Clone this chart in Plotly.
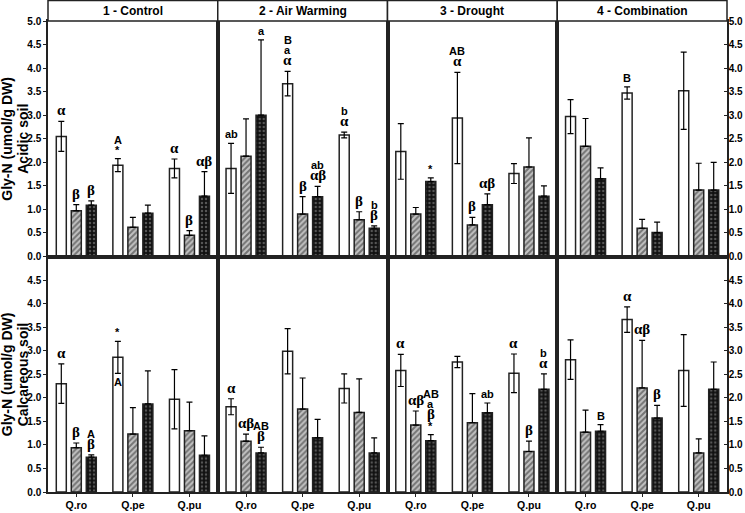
import plotly.graph_objects as go
from plotly.subplots import make_subplots

treatments = ["1 - Control", "2 - Air Warming", "3 - Drought", "4 - Combination"]
species = ["Q.ro", "Q.pe", "Q.pu"]
soils = ["Acidic soil", "Calcareous soil"]

# one inner list per treatment, values for Q.ro, Q.pe, Q.pu
acid_open = [[2.55, 1.94, 1.87], [1.87, 3.67, 2.58], [2.23, 2.94, 1.76], [2.97, 3.47, 3.52]]
acid_open_err = [[0.32, 0.14, 0.20], [0.53, 0.26, 0.06], [0.59, 0.97, 0.21], [0.36, 0.13, 0.82]]
acid_hatch = [[0.97, 0.62, 0.45], [2.13, 0.90, 0.78], [0.90, 0.67, 1.90], [2.34, 0.60, 1.41]]
acid_hatch_err = [[0.13, 0.21, 0.10], [0.79, 0.37, 0.17], [0.14, 0.16, 0.62], [0.59, 0.19, 0.57]]
acid_dot = [[1.09, 0.92, 1.28], [3.00, 1.27, 0.60], [1.59, 1.10, 1.28], [1.65, 0.51, 1.41]]
acid_dot_err = [[0.09, 0.17, 0.52], [1.60, 0.22, 0.05], [0.08, 0.23, 0.22], [0.23, 0.22, 0.59]]

calc_open = [[2.30, 2.86, 1.97], [1.81, 2.99, 2.20], [2.58, 2.76, 2.52], [2.81, 3.66, 2.58]]
calc_open_err = [[0.42, 0.34, 0.63], [0.17, 0.48, 0.31], [0.34, 0.12, 0.41], [0.42, 0.27, 0.76]]
calc_hatch = [[0.94, 1.23, 1.30], [1.08, 1.76, 1.69], [1.42, 1.47, 0.86], [1.27, 2.21, 0.83]]
calc_hatch_err = [[0.10, 0.56, 0.61], [0.15, 0.66, 0.71], [0.30, 0.62, 0.22], [0.47, 1.01, 0.30]]
calc_dot = [[0.74, 1.87, 0.78], [0.83, 1.15, 0.83], [1.09, 1.68, 2.18], [1.29, 1.57, 2.18]]
calc_dot_err = [[0.05, 0.70, 0.41], [0.12, 0.39, 0.32], [0.13, 0.21, 0.33], [0.14, 0.27, 0.58]]

# significance letters, top line first
acid_open_lbl = [["α", "A<br>*", "α"], ["ab", "B<br>a<br>α", "b<br>α"], ["", "AB<br>α", ""], ["", "B", ""]]
acid_hatch_lbl = [["β", "", "β"], ["", "β", "β"], ["", "β", ""], ["", "", ""]]
acid_dot_lbl = [["β", "", "αβ"], ["a", "ab<br>αβ", "b<br>β"], ["*", "αβ", ""], ["", "", ""]]

calc_open_lbl = [["α", "*", ""], ["α", "", ""], ["α", "", "α"], ["", "α", ""]]
calc_hatch_lbl = [["β", "", ""], ["αβ", "", ""], ["αβ", "", "β"], ["", "αβ", ""]]
calc_dot_lbl = [["A<br>β", "", ""], ["AB<br>β", "", ""], ["AB<br>a<br>β<br>*", "ab", "b<br>α"], ["B", "β", ""]]

SANS = "Liberation Sans, Arial"
SERIF = "Liberation Serif, Times New Roman"
LINE = "#222"
BAR_W = 0.177
OFFSET = 0.265
PLOT_W = 679


def axis_ref(row, col):
    k = row * 4 + col + 1
    return ("x" if k == 1 else f"x{k}"), ("y" if k == 1 else f"y{k}")


def add_labels(fig, row, col, xs, tops, labels):
    xr, yr = axis_ref(row, col)
    for x, top, lbl in zip(xs, tops, labels):
        if not lbl:
            continue
        lines = lbl.split("<br>")[::-1]
        shift = 1
        for line in lines:
            greek = any(ch in line for ch in "αβ")
            fig.add_annotation(
                x=x, y=top, xref=xr, yref=yr, text=f"<b>{line}</b>",
                showarrow=False, xanchor="center", yanchor="bottom", yshift=shift,
                font=dict(family=SERIF if greek else SANS, size=15 if greek else 11, color="black"),
            )
            shift += 12 if greek else 10


def main() -> None:
    fig = make_subplots(rows=2, cols=4, horizontal_spacing=0, vertical_spacing=0)

    data = [
        [(acid_open, acid_open_err, acid_open_lbl), (acid_hatch, acid_hatch_err, acid_hatch_lbl),
         (acid_dot, acid_dot_err, acid_dot_lbl)],
        [(calc_open, calc_open_err, calc_open_lbl), (calc_hatch, calc_hatch_err, calc_hatch_lbl),
         (calc_dot, calc_dot_err, calc_dot_lbl)],
    ]
    styles = [
        dict(color="white", line=dict(color=LINE, width=1.5)),
        dict(color="#b8b8b8", line=dict(color=LINE, width=1.5),
             pattern=dict(shape="/", fgcolor="#262626", bgcolor="#c2c2c2", size=4, solidity=0.5)),
        dict(color="#111", line=dict(color=LINE, width=1.5),
             pattern=dict(shape=".", fgcolor="#9a9a9a", bgcolor="#111", size=4, solidity=0.3)),
    ]

    for r in range(2):
        for c in range(4):
            for j, (vals, errs, lbls) in enumerate(data[r]):
                xs = [i + (j - 1) * OFFSET for i in range(len(species))]
                err = dict(type="data", array=errs[c], color="black", thickness=1.2, width=3)
                if j > 0:
                    err.update(symmetric=False, arrayminus=[0] * len(species))
                fig.add_trace(
                    go.Bar(x=xs, y=vals[c], width=BAR_W, marker=styles[j],
                           error_y=err, showlegend=False, hoverinfo="skip"),
                    row=r + 1, col=c + 1,
                )
                tops = [v + e for v, e in zip(vals[c], errs[c])]
                add_labels(fig, r, c, xs, tops, lbls[c])

            fig.update_xaxes(
                range=[-0.5, 2.5], showline=True, mirror=True, linecolor=LINE, linewidth=1.5,
                showgrid=False, zeroline=False, automargin=False,
                tickvals=[0, 1, 2], ticktext=[f"<b>{s}</b>" for s in species],
                showticklabels=(r == 1), ticks="outside" if r == 1 else "", ticklen=3,
                tickcolor=LINE, tickfont=dict(family=SANS, size=10.5, color="black"),
                row=r + 1, col=c + 1,
            )
            tv = [i * 0.5 for i in range(11 if r == 0 else 10)]
            yaxis = dict(
                range=[0, 5], showline=True, mirror=True, linecolor=LINE, linewidth=1.5,
                showgrid=False, zeroline=False, automargin=False,
                tickvals=tv, ticktext=[f"<b>{v:.1f}</b>" for v in tv],
                showticklabels=False, ticks="", ticklen=3, tickcolor=LINE,
                tickfont=dict(family=SANS, size=10, color="black"),
            )
            if c == 0:
                yaxis.update(showticklabels=True, ticks="outside")
            elif c == 3:
                yaxis.update(showticklabels=True, ticks="inside", side="right",
                             ticklabelstandoff=-2)
            fig.update_yaxes(**yaxis, row=r + 1, col=c + 1)

    # treatment header boxes
    head = 20.5 / 471
    for c, name in enumerate(treatments):
        x0, x1 = c / 4, (c + 1) / 4
        fig.add_shape(type="rect", xref="paper", yref="paper", x0=x0, x1=x1, y0=1, y1=1 + head,
                      line=dict(color=LINE, width=1.5), fillcolor="white")
        fig.add_annotation(x=(x0 + x1) / 2, y=1 + head / 2, xref="paper", yref="paper",
                           text=f"<b>{name}</b>", showarrow=False,
                           xanchor="center", yanchor="middle",
                           font=dict(family=SANS, size=12, color="black"))

    # letter drawn inside the Q.pe open bar, calcareous control
    fig.add_annotation(x=1 - OFFSET, y=calc_open[0][1] - calc_open_err[0][1], xref="x5", yref="y5",
                       text="<b>A</b>", showarrow=False, xanchor="center", yanchor="top", yshift=-1,
                       font=dict(family=SANS, size=11, color="black"))

    # two-line y titles, one per row
    for r, soil in enumerate(soils):
        for px, txt in ((-41, "Gly-N (umol/g DW)"), (-25, soil)):
            fig.add_annotation(x=px / PLOT_W, y=0.75 - 0.5 * r, xref="paper", yref="paper",
                               text=f"<b>{txt}</b>", textangle=-90,
                               showarrow=False, xanchor="center", yanchor="middle",
                               font=dict(family=SANS, size=14, color="black"))

    fig.update_layout(
        width=745, height=513, margin=dict(l=48, r=18, t=21, b=21),
        plot_bgcolor="white", paper_bgcolor="white", barmode="overlay",
    )
    # the page body has a default 8px margin; drop it so the figure sits at the corner
    fig.write_html("out.html", config={"displayModeBar": False},
                   post_script="document.body.style.margin='0';")


if __name__ == "__main__":
    main()
